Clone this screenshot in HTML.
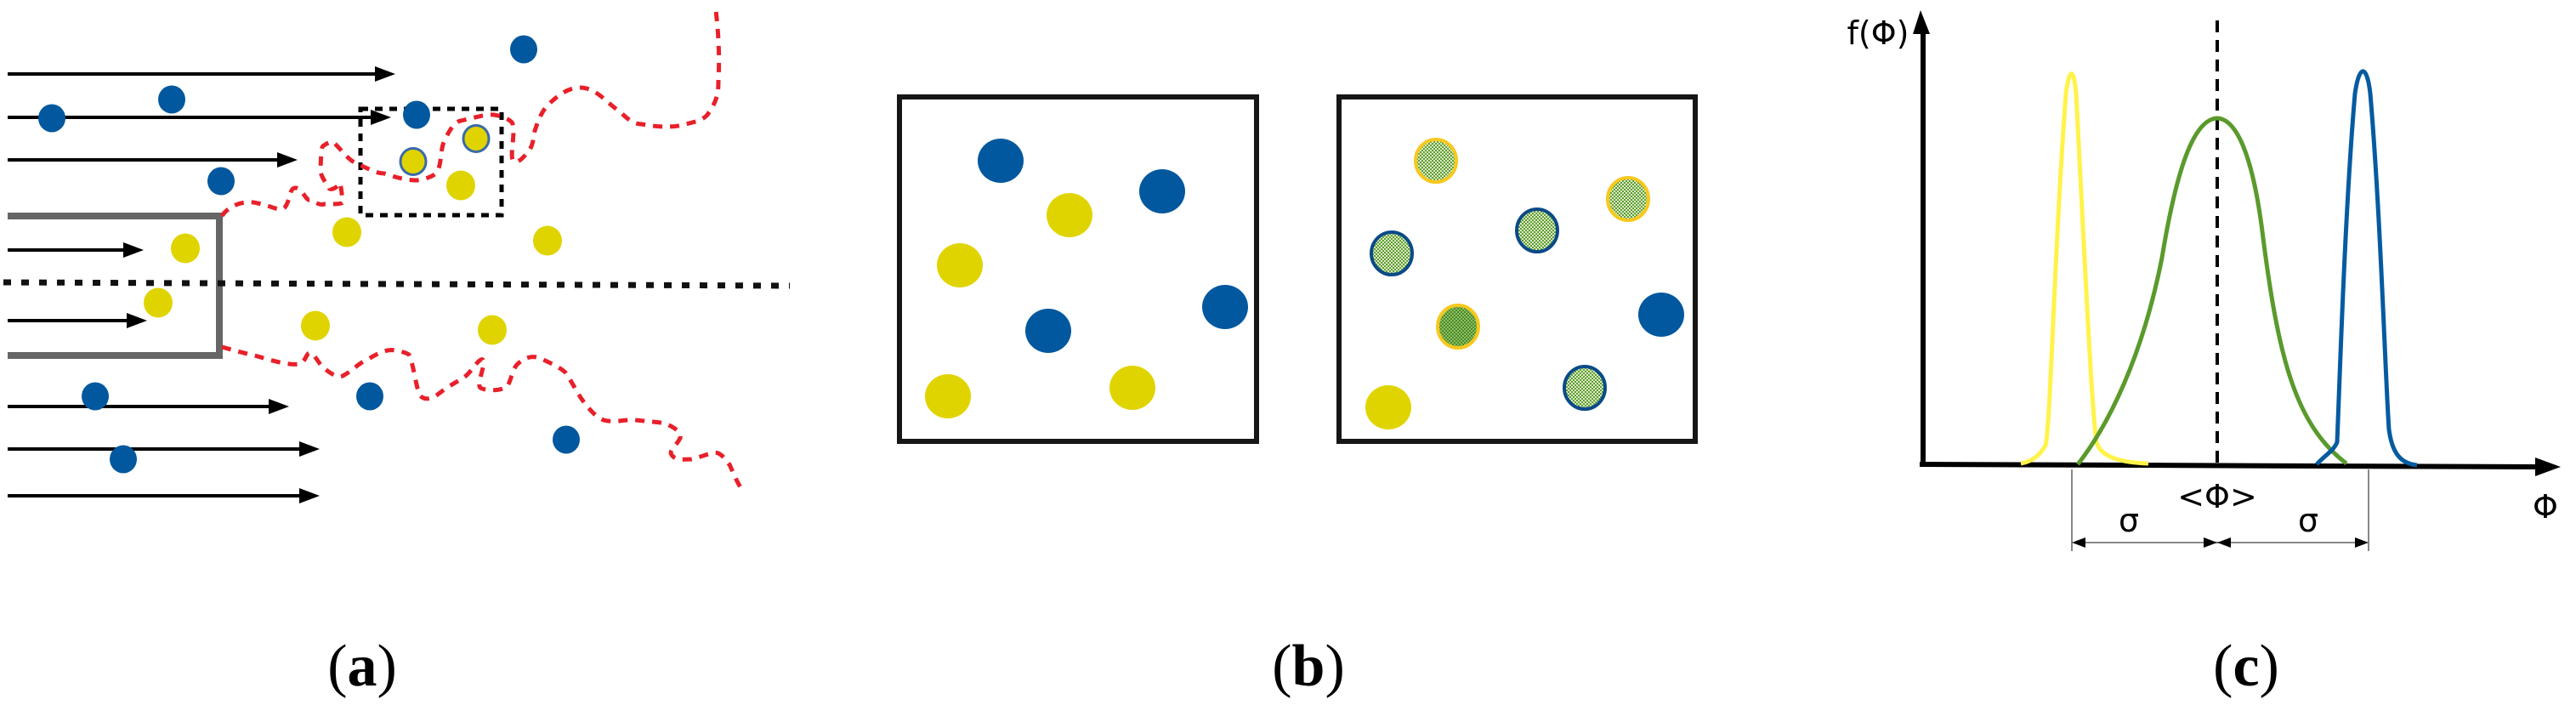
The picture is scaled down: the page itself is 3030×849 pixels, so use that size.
<!DOCTYPE html>
<html><head><meta charset="utf-8"><style>
html,body{margin:0;padding:0;background:#fff;}
svg{display:block;}
</style></head><body>
<svg width="3030" height="849" viewBox="0 0 3030 849" xmlns="http://www.w3.org/2000/svg">
<defs>
<marker id="ah" markerWidth="10" markerHeight="8" refX="9" refY="4" orient="auto" markerUnits="userSpaceOnUse" viewBox="0 0 10 8">
</marker>
<pattern id="chk" width="4" height="4" patternUnits="userSpaceOnUse">
<rect width="4" height="4" fill="#dfeccc"/>
<rect width="2" height="2" fill="#5c9e2e"/>
<rect x="2" y="2" width="2" height="2" fill="#5c9e2e"/>
</pattern>
<pattern id="chk2" width="4" height="4" patternUnits="userSpaceOnUse">
<rect width="4" height="4" fill="#8fbf66"/>
<rect width="2" height="2" fill="#4a8a26"/>
<rect x="2" y="2" width="2" height="2" fill="#4a8a26"/>
</pattern>
</defs>
<rect width="3030" height="849" fill="#fff"/>

<!-- Panel a -->
<g stroke="#000" stroke-width="4">
<line x1="9" y1="87" x2="445" y2="87"/>
<line x1="9" y1="138" x2="440" y2="138"/>
<line x1="9" y1="188" x2="330" y2="188"/>
<line x1="9" y1="294" x2="150" y2="294"/>
<line x1="9" y1="377" x2="153" y2="377"/>
<line x1="9" y1="478" x2="320" y2="478"/>
<line x1="9" y1="528" x2="356" y2="528"/>
<line x1="9" y1="583" x2="356" y2="583"/>
</g>
<g fill="#000">
<polygon points="441,78 465,87 441,96"/>
<polygon points="436,129 460,138 436,147"/>
<polygon points="326,179 350,188 326,197"/>
<polygon points="145,285 169,294 145,303"/>
<polygon points="149,368 173,377 149,386"/>
<polygon points="316,469 340,478 316,487"/>
<polygon points="352,519 376,528 352,537"/>
<polygon points="352,574 376,583 352,592"/>
</g>
<polyline points="9,254 258,254 258,418 9,418" fill="none" stroke="#666" stroke-width="8"/>
<line x1="4" y1="332" x2="929" y2="336" stroke="#111" stroke-width="7" stroke-dasharray="9,12"/>
<rect x="424" y="128" width="166" height="125" fill="none" stroke="#000" stroke-width="5" stroke-dasharray="9,8"/>

<g fill="none" stroke="#e8202a" stroke-width="5" stroke-dasharray="11,9" stroke-linejoin="round">
<path d="M261,254 C270,240 290,235 303,239 C320,242 330,250 335,244 C342,235 340,220 348,221 C356,222 360,237 365,235 C372,238 376,242 381,240 C395,240 405,240 403,237 C402,225 400,214 400,215 C394,224 387,223 387,221 C380,210 376,205 377,196 C378,184 377,172 381,171 C388,166 394,166 394,169 C405,180 410,188 419,192 C435,199 442,204 452,204 C470,210 480,212 490,212 C505,210 515,205 516,198 C520,185 518,175 523,165 C530,150 536,143 542,142 C560,138 572,134 581,135 C598,138 603,144 603,146 C606,160 600,180 603,188 C606,195 615,186 619,181 C628,172 627,162 629,154 C635,135 640,128 645,123 C660,108 675,100 690,104 C705,108 715,122 729,131 C738,140 745,146 755,146 C775,150 795,150 806,146 C820,143 828,140 832,135 C843,120 845,110 845,96 C847,60 844,30 842,12"/>
<path d="M261,408 C275,412 290,416 303,419 C320,424 340,430 352,428 C360,426 360,414 365,415 C370,416 375,428 381,433 C390,440 398,445 403,442 C415,436 420,428 432,423 C445,415 455,410 465,412 C475,414 478,415 481,417 C487,430 489,455 494,465 C500,472 510,468 516,463 C530,452 540,448 548,442 C556,435 564,420 568,423 C572,428 560,452 565,456 C572,460 590,460 597,454 C602,445 603,432 610,427 C620,418 630,418 639,423 C650,428 660,433 665,438 C672,448 678,460 684,469 C692,480 700,490 710,494 C725,498 738,492 748,494 C765,496 780,496 787,500 C797,505 802,510 800,515 C796,524 786,530 790,535 C795,542 805,540 813,540 C825,538 838,530 845,533 C853,537 855,545 858,546 C862,555 866,565 871,573"/>
</g>

<g fill="#02589e">
<ellipse cx="616" cy="58" rx="16" ry="16.5"/>
<ellipse cx="202" cy="117" rx="16" ry="16.5"/>
<ellipse cx="61" cy="139" rx="16" ry="16.5"/>
<ellipse cx="490" cy="135" rx="16" ry="16.5"/>
<ellipse cx="260" cy="213" rx="16" ry="16.5"/>
<ellipse cx="112" cy="466" rx="16" ry="16.5"/>
<ellipse cx="435" cy="466" rx="16" ry="16.5"/>
<ellipse cx="666" cy="517" rx="16" ry="16.5"/>
<ellipse cx="145" cy="540" rx="16" ry="16.5"/>
</g>
<g fill="#e0d400">
<ellipse cx="542" cy="218" rx="17" ry="17.5"/>
<ellipse cx="408" cy="273" rx="17" ry="17.5"/>
<ellipse cx="644" cy="283" rx="17" ry="17.5"/>
<ellipse cx="218" cy="292" rx="17" ry="17.5"/>
<ellipse cx="186" cy="356" rx="17" ry="17.5"/>
<ellipse cx="371" cy="383" rx="17" ry="17.5"/>
<ellipse cx="579" cy="388" rx="17" ry="17.5"/>
<ellipse cx="560" cy="163" rx="15" ry="15.5" stroke="#3a6aa8" stroke-width="3"/>
<ellipse cx="486" cy="190" rx="15" ry="15.5" stroke="#3a6aa8" stroke-width="3"/>
</g>

<!-- Panel b -->
<rect x="1058" y="114" width="420" height="405" fill="none" stroke="#161616" stroke-width="6"/>
<rect x="1575" y="114" width="419" height="405" fill="none" stroke="#161616" stroke-width="6"/>
<g fill="#02589e">
<ellipse cx="1177" cy="189" rx="27" ry="26"/>
<ellipse cx="1367" cy="225" rx="27" ry="26"/>
<ellipse cx="1441" cy="361" rx="27" ry="26"/>
<ellipse cx="1233" cy="389" rx="27" ry="26"/>
<ellipse cx="1954" cy="370" rx="27" ry="26"/>
</g>
<g fill="#e0d400">
<ellipse cx="1258" cy="253" rx="27" ry="26"/>
<ellipse cx="1129" cy="312" rx="27" ry="26"/>
<ellipse cx="1115" cy="466" rx="27" ry="26"/>
<ellipse cx="1332" cy="456" rx="27" ry="26"/>
<ellipse cx="1633" cy="479" rx="27" ry="26"/>
</g>
<ellipse cx="1689" cy="189" rx="24" ry="25" fill="url(#chk)" stroke="#f7c81e" stroke-width="4"/>
<ellipse cx="1915" cy="234" rx="24" ry="25" fill="url(#chk)" stroke="#f7c81e" stroke-width="4"/>
<ellipse cx="1715" cy="384" rx="24" ry="25" fill="url(#chk2)" stroke="#f7c81e" stroke-width="4"/>
<ellipse cx="1808" cy="271" rx="24" ry="25" fill="url(#chk)" stroke="#0b4a88" stroke-width="4"/>
<ellipse cx="1637" cy="298" rx="24" ry="25" fill="url(#chk)" stroke="#0b4a88" stroke-width="4"/>
<ellipse cx="1864" cy="456" rx="24" ry="25" fill="url(#chk)" stroke="#0b4a88" stroke-width="4"/>

<!-- Panel c -->
<line x1="2262" y1="548" x2="2262" y2="36" stroke="#000" stroke-width="6"/>
<polygon points="2250,40 2259,12 2270,40" fill="#000"/>
<line x1="2258" y1="546" x2="2985" y2="549" stroke="#000" stroke-width="6"/>
<polygon points="2982,538 3012,549 2982,560" fill="#000"/>
<line x1="2608" y1="24" x2="2608" y2="546" stroke="#000" stroke-width="4" stroke-dasharray="14,9"/>
<path d="M2377,545 C2395,542 2402,530 2406,524 C2412,500 2416,300 2430,110 C2434,80 2439,78 2442,110 C2452,300 2460,480 2466,520 C2472,540 2500,544 2527,545" fill="none" stroke="#fff34a" stroke-width="5"/>
<path d="M2444,546 C2480,500 2520,420 2543,303 C2560,200 2580,140 2608,139 C2630,140 2650,180 2662,280 C2680,420 2700,500 2760,545" fill="none" stroke="#5a9a2c" stroke-width="5"/>
<path d="M2725,546 C2735,535 2745,530 2749,520 C2752,450 2758,250 2770,110 C2775,75 2784,75 2788,110 C2800,250 2806,450 2810,505 C2814,535 2825,545 2843,547" fill="none" stroke="#055ba0" stroke-width="5"/>
<g stroke="#888" stroke-width="2">
<line x1="2437" y1="552" x2="2437" y2="648"/>
<line x1="2786" y1="552" x2="2786" y2="648"/>
<line x1="2440" y1="638" x2="2784" y2="638"/>
</g>
<g fill="#000">
<polygon points="2437,638 2453,632 2453,644"/>
<polygon points="2608,638 2592,632 2592,644"/>
<polygon points="2608,638 2624,632 2624,644"/>
<polygon points="2786,638 2770,632 2770,644"/>
</g>
<g font-family="'DejaVu Sans','Liberation Sans',sans-serif" font-size="38" fill="#000" text-anchor="middle">
<text x="2209" y="52">f(Φ)</text>
<text x="2608" y="597">&lt;Φ&gt;</text>
<text x="2994" y="609">Φ</text>
<text x="2504" y="625">σ</text>
<text x="2715" y="625">σ</text>
</g>

<g font-family="'Liberation Serif',serif" font-size="70" fill="#000" text-anchor="middle">
<text x="426" y="806">(<tspan font-weight="bold">a</tspan>)</text>
<text x="1539" y="806">(<tspan font-weight="bold">b</tspan>)</text>
<text x="2642" y="806">(<tspan font-weight="bold">c</tspan>)</text>
</g>
</svg>
</body></html>
